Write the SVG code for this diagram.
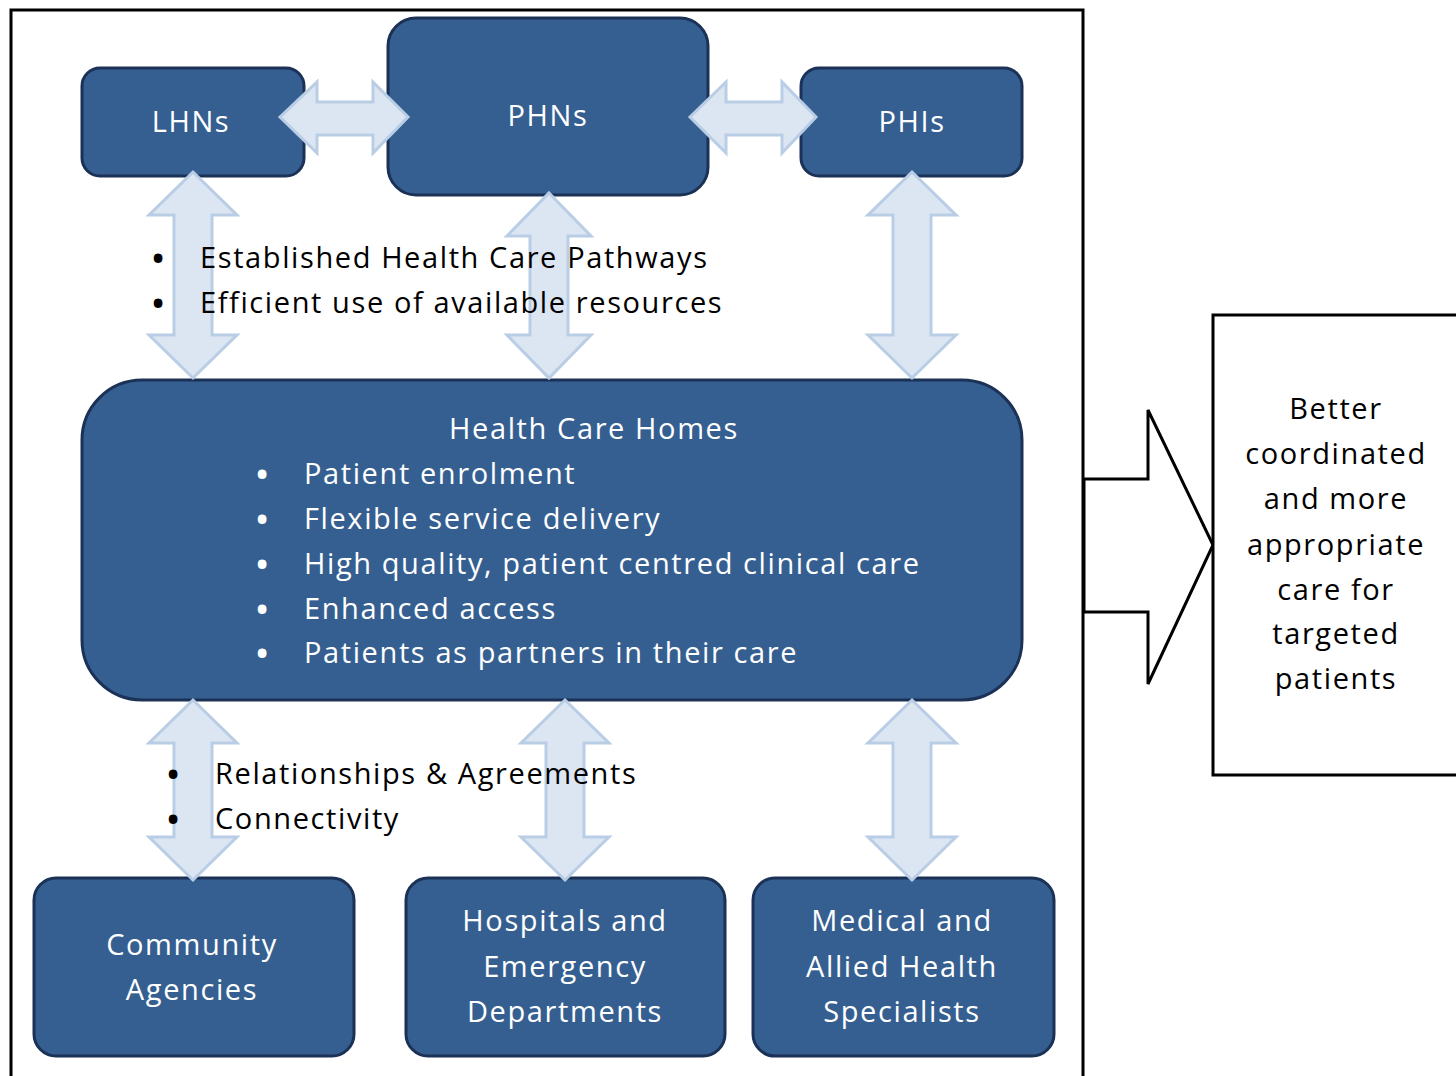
<svg xmlns="http://www.w3.org/2000/svg" width="1456" height="1076" viewBox="0 0 1456 1076">
<defs>
<style>
.node{fill:#365F91;stroke:#1B3256;stroke-width:3}
.conn{fill:#DCE6F2;stroke:#B9CDE5;stroke-width:3}
text{font-family:"Open Sans","Liberation Sans",Arial,sans-serif;font-size:29px;letter-spacing:1.6px}
.wt{fill:#FFFFFF;text-anchor:middle}
.wl{fill:#FFFFFF}
.bt{fill:#000000}
.bc{fill:#000000;text-anchor:middle}
.bu{font-size:31px;font-weight:bold;letter-spacing:0;text-anchor:middle}
</style>
</defs>
<rect width="1456" height="1076" fill="#FFFFFF"/>
<path d="M11,1076 V10 H1083 V1076" fill="none" stroke="#000" stroke-width="3"/>
<g id="lhns"><rect class="node" x="82" y="68" width="222" height="108" rx="18"/><text class="wt" x="191" y="132">LHNs</text></g>
<g id="phns"><rect class="node" x="388" y="18" width="320" height="177" rx="28"/><text class="wt" x="548" y="126">PHNs</text></g>
<g id="phis"><rect class="node" x="801" y="68" width="221" height="108" rx="18"/><text class="wt" x="912" y="132">PHIs</text></g>
<g id="hch"><rect class="node" x="82" y="380" width="940" height="320" rx="60"/>
<text class="wt" x="594" y="439">Health Care Homes</text>
<g class="wl">
<text class="bu" x="262" y="485">•</text><text x="304" y="484">Patient enrolment</text>
<text class="bu" x="262" y="530">•</text><text x="304" y="529">Flexible service delivery</text>
<text class="bu" x="262" y="575">•</text><text x="304" y="574">High quality, patient centred clinical care</text>
<text class="bu" x="262" y="620">•</text><text x="304" y="619">Enhanced access</text>
<text class="bu" x="262" y="664">•</text><text x="304" y="663">Patients as partners in their care</text>
</g></g>
<g id="community"><rect class="node" x="34" y="878" width="320" height="178" rx="22"/><text class="wt" x="192" y="955">Community</text><text class="wt" x="192" y="1000">Agencies</text></g>
<g id="hospitals"><rect class="node" x="406" y="878" width="319" height="178" rx="22"/><text class="wt" x="565" y="931">Hospitals and</text><text class="wt" x="565" y="977">Emergency</text><text class="wt" x="565" y="1022">Departments</text></g>
<g id="medical"><rect class="node" x="753" y="878" width="301" height="178" rx="22"/><text class="wt" x="902" y="931">Medical and</text><text class="wt" x="902" y="977">Allied Health</text><text class="wt" x="902" y="1022">Specialists</text></g>
<g id="connectors">
<polygon class="conn" points="280,117 317,82 317,102 373,102 373,82 408,117 373,153 373,135 317,135 317,153"/>
<polygon class="conn" points="690,117 726,82 726,102 782,102 782,82 816,117 782,153 782,135 726,135 726,153"/>
<polygon class="conn" points="193,172 237,215 212,215 212,335 237,335 193,378 149,335 174,335 174,215 149,215"/>
<polygon class="conn" points="549,193 591,236 568,236 568,335 591,335 549,378 507,335 530,335 530,236 507,236"/>
<polygon class="conn" points="912,172 956,215 931,215 931,335 956,335 912,378 868,335 893,335 893,215 868,215"/>
<polygon class="conn" points="193,700 237,743 212,743 212,837 237,837 193,880 149,837 174,837 174,743 149,743"/>
<polygon class="conn" points="565,700 609,743 584,743 584,837 609,837 565,880 521,837 546,837 546,743 521,743"/>
<polygon class="conn" points="912,700 956,743 931,743 931,837 956,837 912,880 868,837 893,837 893,743 868,743"/>
<polygon points="1084,479 1148,479 1148,410 1213,545 1148,684 1148,612 1084,612" fill="#FFFFFF" stroke="#000" stroke-width="3"/>
</g>
<g id="labels">
<text class="bt bu" x="158" y="269">•</text><text class="bt" x="200" y="268">Established Health Care Pathways</text>
<text class="bt bu" x="158" y="314">•</text><text class="bt" x="200" y="313">Efficient use of available resources</text>
<text class="bt bu" x="173" y="785">•</text><text class="bt" x="215" y="784">Relationships &amp; Agreements</text>
<text class="bt bu" x="173" y="830">•</text><text class="bt" x="215" y="829">Connectivity</text>
</g>
<g id="outcome"><rect x="1213" y="315" width="260" height="460" fill="#FFFFFF" stroke="#000" stroke-width="3"/>
<text class="bc" x="1336" y="419">Better</text>
<text class="bc" x="1336" y="464">coordinated</text>
<text class="bc" x="1336" y="509">and more</text>
<text class="bc" x="1336" y="555">appropriate</text>
<text class="bc" x="1336" y="600">care for</text>
<text class="bc" x="1336" y="644">targeted</text>
<text class="bc" x="1336" y="689">patients</text>
</g>
</svg>
